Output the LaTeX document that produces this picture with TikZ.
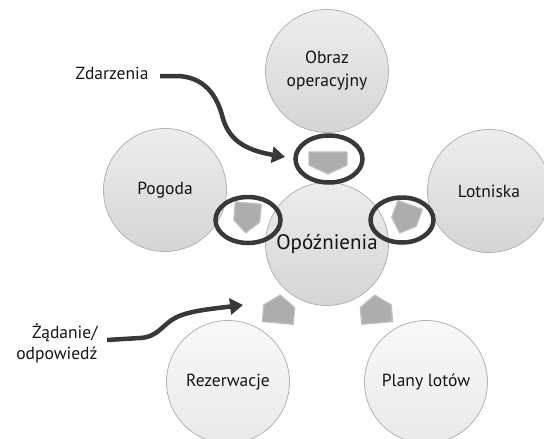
\documentclass[tikz,border=0pt]{standalone}
\usepackage{fontspec}
\setmainfont{PT Sans}
\usetikzlibrary{arrows.meta,shapes.geometric}

% home-plate arrow: centre x, centre y, direction angle, length, breadth
\newcommand\drawchevron[5]{%
  \fill[chevron, shift={(#1,#2)}, rotate=#3]
    ({-#4/2},{-#5/2}) -- ({#4/2-0.4*#4},{-#5/2}) -- ({#4/2},0)
    -- ({#4/2-0.4*#4},{#5/2}) -- ({-#4/2},{#5/2}) -- cycle;}

\begin{document}
\begin{tikzpicture}[x=1pt,y=-1pt,
  bubble/.style={circle, minimum size=123pt, inner sep=0pt, draw=gray!60,
    line width=0.8pt, shading=axis, top color=gray!14, bottom color=gray!33,
    align=center, font=\fontsize{17.5}{23}\selectfont, text=black!92},
  paler/.style={top color=gray!5, bottom color=gray!17},
  ring/.style={ellipse, draw=black!78, line width=4.5pt, inner sep=0pt},
  flow/.style={draw=black!78, line width=4.5pt,
    -{Triangle[length=13pt,width=16pt]}},
  caption/.style={font=\fontsize{17.5}{21}\selectfont, text=black!92},
  chevron/.style={fill=gray!64, draw=gray!50, line width=1.2pt, line join=round}
]
\useasboundingbox (0,0) rectangle (544,439);

% circles
\node[bubble] (obraz) at (327,71) {Obraz\\operacyjny};
\node[bubble] (pogoda) at (165,190) {Pogoda};
\node[bubble] (lotn) at (489,191) {Lotniska};
\node[bubble, font=\fontsize{21}{24}\selectfont] (delay) at (327,244) {Opóźnienia};
\node[bubble, paler] (rez) at (228,382) {Rezerwacje};
\node[bubble, paler] (plany) at (426,382) {Plany lotów};

% grey arrows around the centre
\drawchevron{328}{163}{-90}{22}{38}
\drawchevron{247}{218}{-95}{30}{26}
\drawchevron{405}{219}{-110}{30}{26}
\drawchevron{279}{309}{85}{28}{31}
\drawchevron{376}{309}{95}{28}{31}

% highlight rings
\node[ring, minimum width=67pt, minimum height=47pt] (ringtop) at (329,159) {};
\node[ring, minimum width=65pt, minimum height=46pt] (ringleft) at (248,220) {};
\node[ring, minimum width=63pt, minimum height=45pt] (ringright) at (402,220) {};

% side captions and their arrows
\node[caption] (zd) at (112,73) {Zdarzenia};
\node[caption, align=right, anchor=east] (zad) at (101,343) {Żądanie/\\odpowiedź};

\coordinate (zdEnd) at (285,157);
\coordinate (zadEnd) at (243,305);

\draw[flow] ([xshift=8pt,yshift=-3pt]zd.east) -- (178,76)
  .. controls (200,77) and (215,90) .. (222,115)
  .. controls (228,140) and (245,150) .. (zdEnd);
\draw[flow] ([xshift=6pt,yshift=3pt]zad.east) -- (140,338)
  .. controls (158,337) and (162,325) .. (175,318)
  .. controls (188,311) and (210,309) .. (zadEnd);
\end{tikzpicture}
\end{document}
